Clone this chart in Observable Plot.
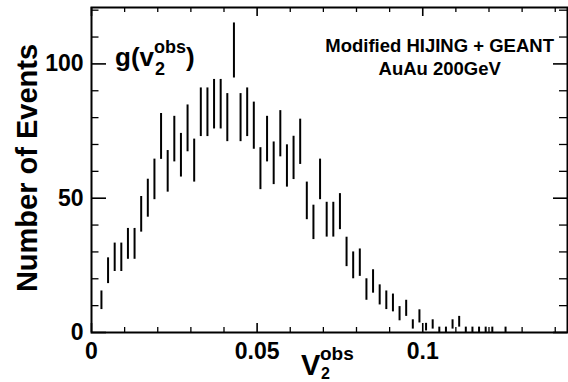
<!DOCTYPE html>
<html><head><meta charset="utf-8">
<script src="https://cdn.jsdelivr.net/npm/d3@7"></script>
<script src="https://cdn.jsdelivr.net/npm/@observablehq/plot@0.6"></script>
<style>html,body{margin:0;padding:0;background:#fff;} #chart svg{display:block;}</style>
</head><body><div id="chart"></div>
<script>
// ---- data ----
const binCenters = [0.003,0.005,0.007,0.009,0.011,0.013,0.015,0.017,0.019,0.021,
  0.023,0.025,0.027,0.029,0.031,0.033,0.035,0.037,0.039,0.041,
  0.043,0.045,0.047,0.049,0.051,0.053,0.055,0.057,0.059,0.061,
  0.063,0.065,0.067,0.069,0.071,0.073,0.075,0.077,0.079,0.081,
  0.083,0.085,0.087,0.089,0.091,0.093,0.095,0.097,0.099,0.101,
  0.103,0.105,0.107,0.109,0.111,0.113,0.115,0.117,0.119,0.121,
  0.123,0.125];
const counts = [12,23,28,28,33,33,44,50,57,73,
  60,72,66,76,64,82,82,85,85,80,
  105,80,82,77,61,72,63,74,62,65,
  71,49,41,57,42,42,45,30,25,26,
  16,19,14,12,11,7,9,3,6,2,
  3,1,1,3,4,1,1,1,1,1,
  0,1];
const xMajorTicks = [0, 0.05, 0.1];
const xTickLabels = ["0", "0.05", "0.1"];
const xMinorTicks = [0.01,0.02,0.03,0.04,0.06,0.07,0.08,0.09,0.11,0.12,0.13,0.14];
const yMajorTicks = [0, 50, 100];
const yTickLabels = ["0", "50", "100"];
const yMinorTicks = [10,20,30,40,60,70,80,90,110,120];
const yTitle = "Number of Events";
const note1 = "Modified HIJING + GEANT";
const note2 = "AuAu 200GeV";

// ---- layout ----
const W = 568, H = 382, ML = 91, MR = 1, MT = 7, MB = 50;
const FW = W - ML - MR, FH = H - MT - MB;
const font = "'Liberation Sans', Arial, Helvetica, sans-serif";
const bins = binCenters.map((v, i) => ({v, n: counts[i]})).filter(d => d.n > 0);

// inward ticks as Plot tick marks, inset from the opposite side of the frame
const tickB = (t, len, w) => Plot.tickX(t, {x: d => d, insetTop: FH - len, stroke: "black", strokeWidth: w});
const tickT = (t, len, w) => Plot.tickX(t, {x: d => d, insetBottom: FH - len, stroke: "black", strokeWidth: w});
const tickL = (t, len, w) => Plot.tickY(t, {y: d => d, insetRight: FW - len, stroke: "black", strokeWidth: w});
const tickR = (t, len, w) => Plot.tickY(t, {y: d => d, insetLeft: FW - len, stroke: "black", strokeWidth: w});

const svg = Plot.plot({
  width: W, height: H,
  marginLeft: ML, marginRight: MR, marginTop: MT, marginBottom: MB,
  x: {domain: [0, 0.1437], ticks: xMajorTicks, tickSize: 0, tickPadding: 10, label: null,
      tickFormat: d => xTickLabels[xMajorTicks.indexOf(d)]},
  y: {domain: [0, 121], ticks: yMajorTicks, tickSize: 0, tickPadding: 8, label: null,
      tickFormat: d => yTickLabels[yMajorTicks.indexOf(d)]},
  style: {fontFamily: font, fontSize: "23px", fontWeight: "bold", background: "white", color: "black"},
  marks: [
    tickB(xMajorTicks, 9, 1.6), tickB(xMinorTicks, 5, 1.3),
    tickT(xMajorTicks, 9, 1.6), tickT(xMinorTicks, 5, 1.3),
    tickL(yMajorTicks, 15, 1.6), tickL(yMinorTicks, 7.5, 1.3),
    tickR(yMajorTicks, 14, 1.6), tickR(yMinorTicks, 8, 1.3),
    Plot.ruleX(bins, {x: "v", y1: d => d.n - Math.sqrt(d.n), y2: d => d.n + Math.sqrt(d.n), stroke: "black", strokeWidth: 2}),
    Plot.frame({stroke: "black", strokeWidth: 2})
  ]
});
document.getElementById("chart").appendChild(svg);

// ---- annotations (text with sub/superscripts) ----
const s = d3.select(svg);
function txt(x, y, str, size, anchor = "start", transform = null) {
  const t = s.append("text").attr("x", x).attr("y", y).text(str)
    .attr("font-family", font).attr("font-weight", "bold").attr("font-size", size)
    .attr("text-anchor", anchor).attr("fill", "black");
  if (transform) t.attr("transform", transform).attr("x", 0).attr("y", 0);
  return t;
}
txt(439.6, 51.7, note1, 18.5, "middle");
txt(439.7, 75, note2, 18.5, "middle");
// g(v_2^obs)
txt(115, 66, "g(v", 26);
txt(154, 53, "obs", 18);
txt(155, 75, "2", 18);
txt(186, 66, ")", 26);
// x title V_2^obs
txt(301, 375, "V", 29);
txt(320, 360, "obs", 19);
txt(321, 379, "2", 16);
// y title
txt(0, 0, yTitle, 29, "middle", "translate(36.5,168) rotate(-90)");
</script>
</body></html>
